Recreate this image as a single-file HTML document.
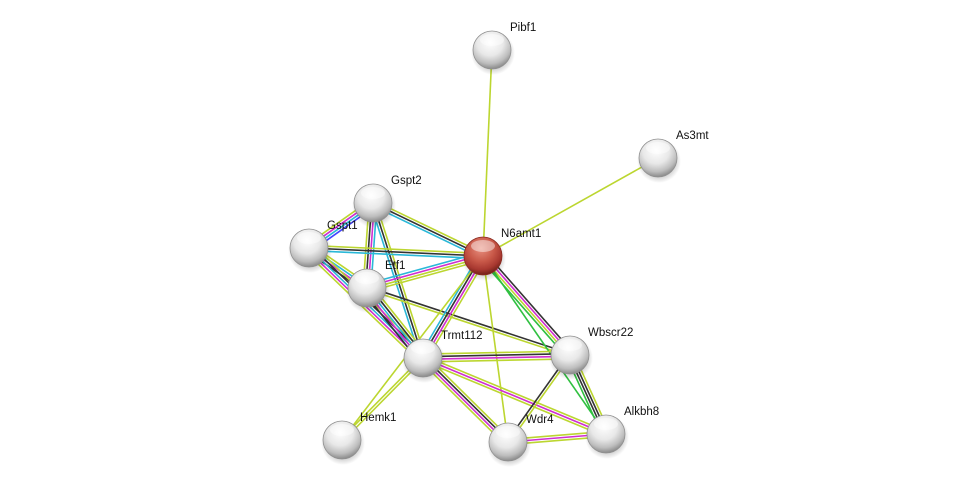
<!DOCTYPE html>
<html><head><meta charset="utf-8"><style>
html,body{margin:0;padding:0;background:#fff;width:975px;height:487px;overflow:hidden}
svg{display:block}
text{font-family:"Liberation Sans",Arial,sans-serif;font-size:11.5px;fill:#111}
</style></head><body>
<svg id="s" width="975" height="487" viewBox="0 0 975 487">
<defs>
<radialGradient id="g" cx="45%" cy="30%" r="70%">
<stop offset="0" stop-color="#ffffff"/><stop offset="0.5" stop-color="#e8e8e8"/><stop offset="0.8" stop-color="#bdbdbd"/><stop offset="1" stop-color="#8a8a8a"/>
</radialGradient>
<radialGradient id="r" cx="45%" cy="30%" r="70%">
<stop offset="0" stop-color="#e89080"/><stop offset="0.5" stop-color="#c85848"/><stop offset="0.8" stop-color="#a83830"/><stop offset="1" stop-color="#702018"/>
</radialGradient>
<radialGradient id="sh" cx="50%" cy="50%" r="50%">
<stop offset="0.6" stop-color="#000" stop-opacity="0.25"/><stop offset="1" stop-color="#000" stop-opacity="0"/>
</radialGradient>
</defs>
<g id="edges"></g><g id="nodes"></g>
</svg>
<script>
var N={Pibf1:[492,50],As3mt:[658,158],Gspt2:[373,203],Gspt1:[309,248],N6amt1:[483,256],Etf1:[367,288],Trmt112:[423,358],Wbscr22:[570,355],Hemk1:[342,440],Wdr4:[508,442],Alkbh8:[606,434]};
var C={y:"#bcd630",k:"#333333",m:"#d02ed0",c:"#2ab8d8",g:"#30c040",b:"#4444ff"};
var E=[["Pibf1","N6amt1","y"],["As3mt","N6amt1","y"],["Gspt2","Gspt1","bcmy"],["Gspt2","N6amt1","ykc"],["Gspt2","Etf1","cmky"],["Gspt2","Trmt112","ykc"],["Gspt1","N6amt1","ykc"],["Gspt1","Etf1","ycmk"],["Gspt1","Trmt112","ykcmy"],["Etf1","N6amt1","cmyy"],["Etf1","Trmt112","ykcmk"],["Etf1","Wbscr22","ky"],["N6amt1","Trmt112","ymkc"],["N6amt1","Wbscr22","kmyg"],["N6amt1","Wdr4","y"],["N6amt1","Alkbh8","g"],["Hemk1","Trmt112","yy"],["Hemk1","N6amt1","y"],["Trmt112","Wbscr22","ykmy"],["Trmt112","Wdr4","ykmy"],["Trmt112","Alkbh8","ymy"],["Wbscr22","Wdr4","yk"],["Wbscr22","Alkbh8","ykkg"],["Wdr4","Alkbh8","ymy"]];
var ns="http://www.w3.org/2000/svg",eg=document.getElementById("edges"),ng=document.getElementById("nodes");
E.forEach(function(e){var a=N[e[0]],b=N[e[1]],dx=b[0]-a[0],dy=b[1]-a[1],L=Math.hypot(dx,dy),px=-dy/L,py=dx/L,n=e[2].length;
for(var i=0;i<n;i++){var o=(i-(n-1)/2)*2.6;var l=document.createElementNS(ns,"line");
l.setAttribute("x1",a[0]+px*o);l.setAttribute("y1",a[1]+py*o);l.setAttribute("x2",b[0]+px*o);l.setAttribute("y2",b[1]+py*o);
l.setAttribute("stroke",C[e[2][i]]);l.setAttribute("stroke-width","1.6");eg.appendChild(l);}});
for(var k in N){var p=N[k];
var s=document.createElementNS(ns,"circle");s.setAttribute("cx",p[0]+1);s.setAttribute("cy",p[1]+3);s.setAttribute("r",22);s.setAttribute("fill","url(#sh)");ng.appendChild(s);
var c=document.createElementNS(ns,"circle");c.setAttribute("cx",p[0]);c.setAttribute("cy",p[1]);c.setAttribute("r",19);c.setAttribute("fill",k=="N6amt1"?"url(#r)":"url(#g)");c.setAttribute("stroke",k=="N6amt1"?"#8a2a20":"#909090");c.setAttribute("stroke-width","0.8");ng.appendChild(c);
var h=document.createElementNS(ns,"ellipse");h.setAttribute("cx",p[0]);h.setAttribute("cy",p[1]-10);h.setAttribute("rx",12);h.setAttribute("ry",6);h.setAttribute("fill","#fff");h.setAttribute("opacity","0.45");ng.appendChild(h);
var t=document.createElementNS(ns,"text");t.setAttribute("x",p[0]+18);t.setAttribute("y",p[1]-19);t.textContent=k;ng.appendChild(t);}
</script>
</body></html>
